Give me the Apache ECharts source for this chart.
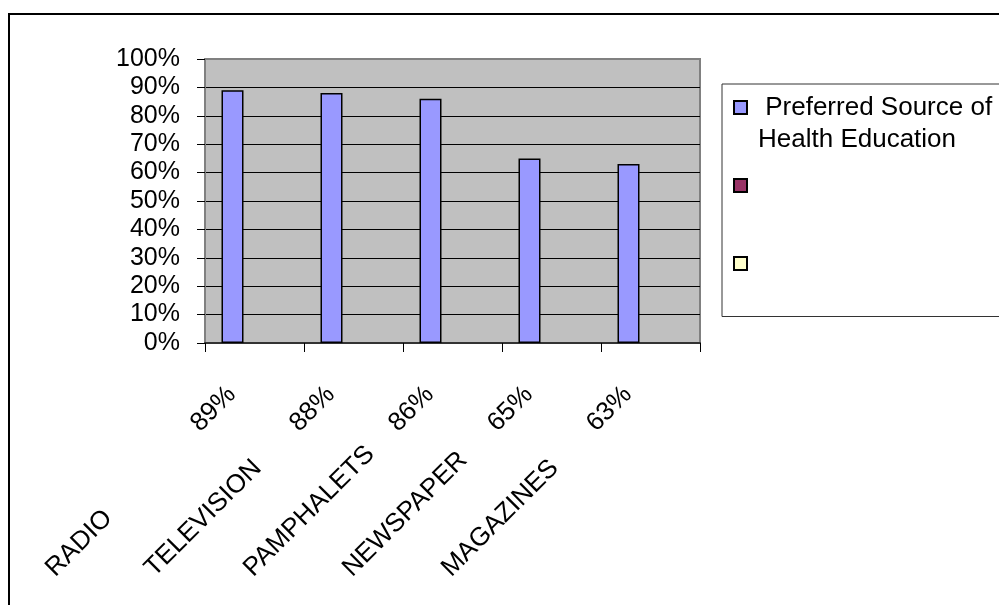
<!DOCTYPE html>
<html>
<head>
<meta charset="utf-8">
<title>Preferred Source of Health Education</title>
<script src="https://cdn.jsdelivr.net/npm/echarts@6/dist/echarts.min.js"></script>
<style>
  html, body { margin: 0; padding: 0; background: #fff; overflow: hidden; }
  #frame { position: absolute; left: 8px; top: 13px; width: 1100px; height: 700px; border: 2px solid #000; }
  #chart { position: absolute; left: 0; top: 0; width: 999px; height: 605px; }
</style>
</head>
<body>
<div id="frame"></div>
<div id="chart"></div>
<script>
// categories and values
const categories = ['RADIO', 'TELEVISION', 'PAMPHALETS', 'NEWSPAPER', 'MAGAZINES'];
const preferred = [89, 88, 86, 65, 63];
const yTicks = { min: 0, max: 100, interval: 10 };

const seriesNames = [' Preferred Source of\nHealth Education', ' ', '  '];
const seriesColors = ['#9999FF', '#993366', '#FFFFCC'];

const font = "'Liberation Sans', Arial, sans-serif";
const labelSize = 26;
const nameColumn = 205; // name + gap before the percentage, like a tab stop

// measure each name so the percentages line up in one column
const ctx = document.createElement('canvas').getContext('2d');
ctx.font = labelSize + 'px ' + font;
const rich = { p: { fontSize: labelSize, fontFamily: font, color: '#000' } };
categories.forEach(function (c, i) {
  const w = ctx.measureText(c).width;
  rich['n' + i] = {
    fontSize: labelSize, fontFamily: font, color: '#000',
    padding: [0, Math.max(0, nameColumn - w), 0, 0]
  };
});

const chart = echarts.init(document.getElementById('chart'));

// legend square sits at the first text line (path bbox = whole item height)
const legendIcon = 'path://M0,0M0,64M0,9.5L13,9.5L13,22.5L0,22.5Z';

const option = {
  animation: false,
  textStyle: { fontFamily: font },
  grid: {
    left: 205, right: 299, top: 59, bottom: 262,
    show: true,
    backgroundColor: '#C0C0C0',
    borderColor: '#808080',
    borderWidth: 2,
    outerBoundsMode: 'none'
  },
  legend: {
    orient: 'vertical',
    left: 722,
    top: 84,
    padding: [6.5, 60, 4, 11],
    itemWidth: 13,
    itemHeight: 64,
    itemGap: 12,
    icon: legendIcon,
    selectedMode: false,
    borderColor: '#333',
    borderWidth: 1,
    data: seriesNames,
    textStyle: {
      fontFamily: font,
      fontSize: 26,
      lineHeight: 32,
      color: '#000',
      padding: [0, 0, 0, 6]
    }
  },
  xAxis: {
    type: 'category',
    data: categories,
    boundaryGap: true,
    axisLine: { lineStyle: { color: '#333', width: 2 } },
    axisTick: { show: true, length: 9, lineStyle: { color: '#000' } },
    axisLabel: {
      interval: 0,
      rotate: 45,
      margin: 25,
      padding: [0, 32, 0, 0],
      color: '#000',
      fontFamily: font,
      fontSize: labelSize,
      formatter: function (value, idx) {
        return '{n' + idx + '|' + value + '}{p|' + preferred[idx] + '%}';
      },
      rich: rich
    },
    splitLine: { show: false }
  },
  yAxis: {
    type: 'value',
    min: yTicks.min,
    max: yTicks.max,
    interval: yTicks.interval,
    axisLine: { show: true, lineStyle: { color: '#808080', width: 2 } },
    axisTick: { show: true, length: 8, lineStyle: { color: '#000' } },
    axisLabel: {
      margin: 25,
      color: '#000',
      fontFamily: font,
      fontSize: 25,
      formatter: '{value}%'
    },
    splitLine: {
      show: true,
      showMinLine: false,
      showMaxLine: false,
      lineStyle: { color: '#000', width: 1 }
    }
  },
  series: [
    {
      name: seriesNames[0],
      type: 'bar',
      data: preferred,
      barWidth: 22,
      barGap: '0%',
      itemStyle: { color: seriesColors[0], borderColor: '#000', borderWidth: 1.5 }
    },
    {
      name: seriesNames[1],
      type: 'bar',
      data: [],
      barWidth: 22,
      barGap: '0%',
      itemStyle: { color: seriesColors[1], borderColor: '#000', borderWidth: 1.5 }
    },
    {
      name: seriesNames[2],
      type: 'bar',
      data: [],
      barWidth: 22,
      barGap: '0%',
      itemStyle: { color: seriesColors[2], borderColor: '#000', borderWidth: 1.5 }
    }
  ]
};

chart.setOption(option);
</script>
</body>
</html>
